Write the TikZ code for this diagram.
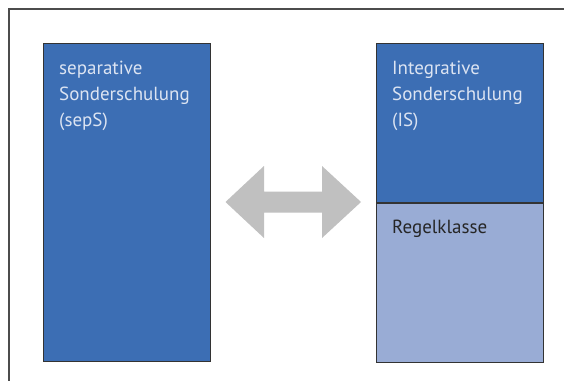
\documentclass[tikz,border=0pt]{standalone}
\usepackage{fontspec}
\setmainfont{PT Sans}
\begin{document}
\begin{tikzpicture}[x=1pt,y=-1pt,
  box/.style={draw=black!80, line width=0.8pt, inner sep=0pt, minimum width=167pt},
  dark/.style={box, fill=boxblue},
  light/.style={box, fill=boxlight},
  lbl/.style={inner sep=0pt, anchor=base west, align=left, font=\fontsize{19}{26}\selectfont},
]
\definecolor{boxblue}{HTML}{3C6EB4}
\definecolor{boxlight}{HTML}{99ACD5}
\definecolor{txtlight}{HTML}{DCE4F2}
\definecolor{arrowgray}{HTML}{C0C0C0}
\useasboundingbox (0,0) rectangle (564,380);
\clip (0,0) rectangle (564,380);
\fill[white] (0,0) rectangle (564,380);
\draw[black!70, line width=1.2pt] (9,390) -- (9,9) -- (575,9);
% boxes
\node[dark, minimum height=318pt, anchor=north west] (seps) at (43,43) {};
\node[dark, minimum height=159pt, anchor=north west] (is) at (376,43) {};
\node[light, minimum height=159pt, anchor=north west] (regel) at (is.south west) {};
% labels (base anchor = baseline of last line)
\node[lbl, text=txtlight] (sepslbl) at (59,126) {separative\\Sonderschulung\\(sepS)};
\node[lbl, text=txtlight] (islbl) at (392,126) {Integrative\\Sonderschulung\\(IS)};
\node[lbl, text=black!85] (regellbl) at (392,233) {Regelklasse};
% double arrow
\coordinate (lt) at (225.5,202);
\coordinate (rt) at (361,202);
\fill[arrowgray] (lt) -- (264,166) -- (264,191.5) -- (322,191.5) -- (322,166) -- (rt)
  -- (322,238) -- (322,212.5) -- (264,212.5) -- (264,238) -- cycle;
\end{tikzpicture}
\end{document}
